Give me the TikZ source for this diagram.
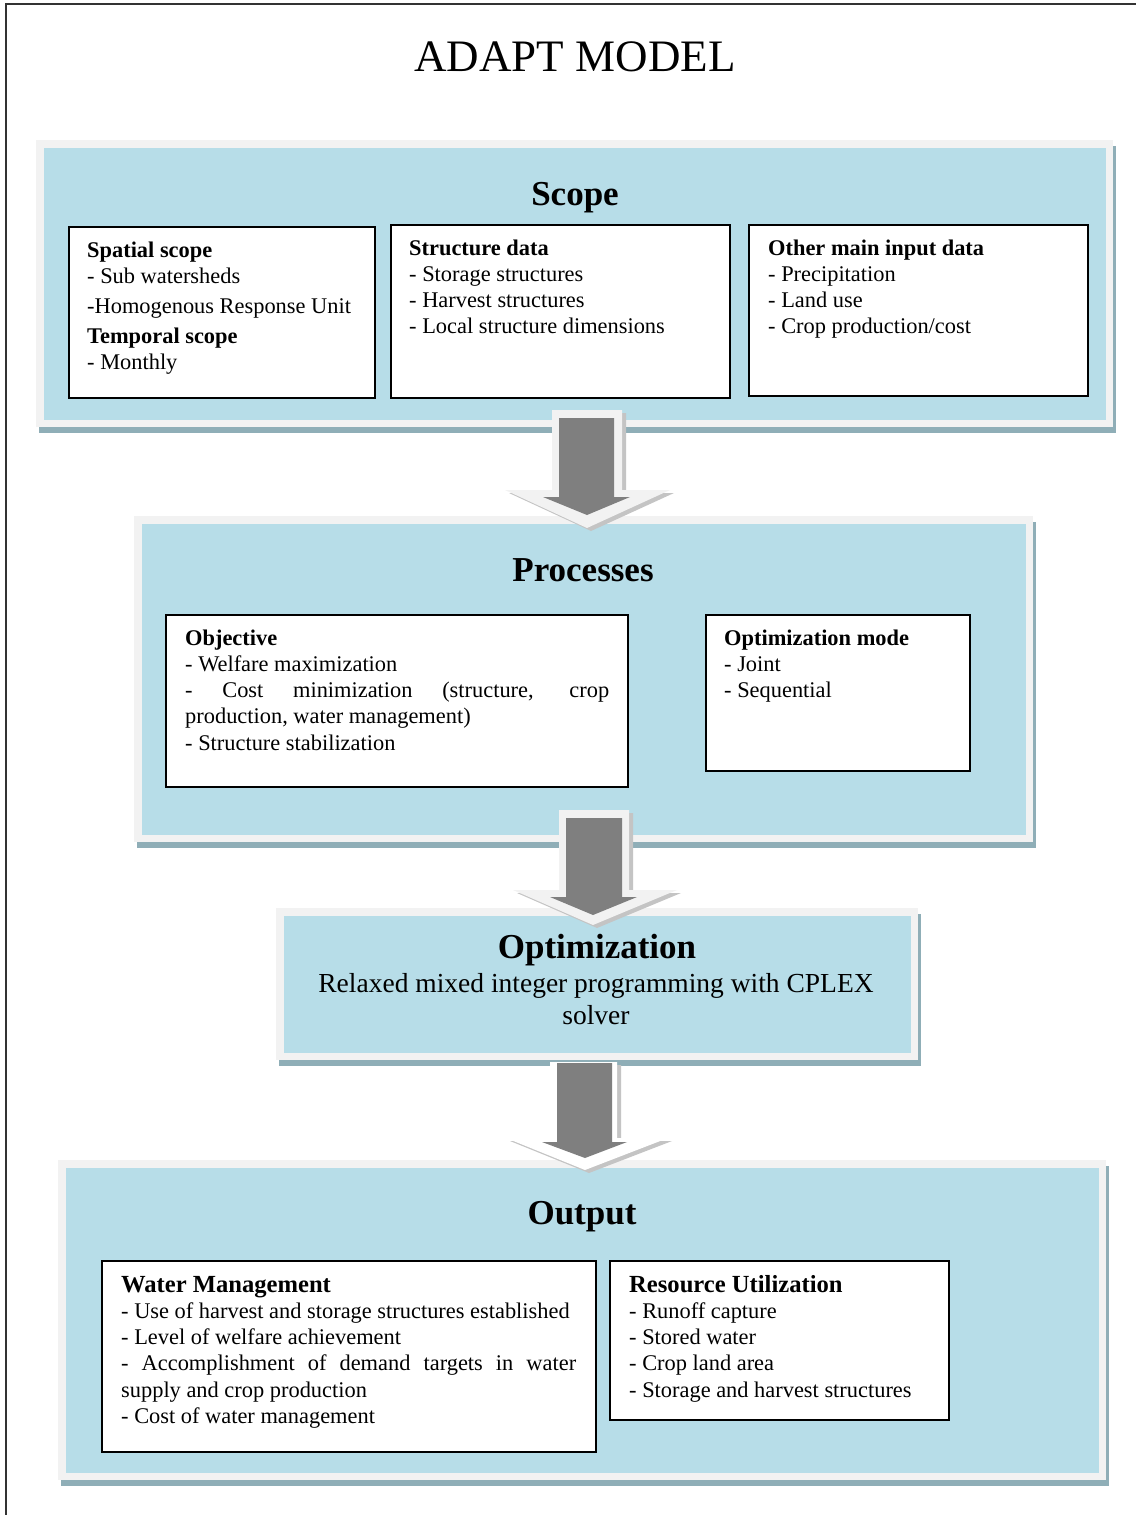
\documentclass[tikz,border=0pt]{standalone}
\usepackage{fontspec}
\setmainfont{Liberation Serif}
\usetikzlibrary{calc}

\definecolor{panelblue}{HTML}{B7DDE8}
\definecolor{panelrim}{HTML}{F2F2F2}
\definecolor{panelshade}{HTML}{8FAEB7}
\definecolor{arrowgray}{HTML}{7F7F7F}
\definecolor{arrowshade}{HTML}{C4C4C4}
\definecolor{framegray}{HTML}{333333}

\hyphenpenalty=10000
\exhyphenpenalty=10000

% heading font of the output boxes
\newcommand{\outhead}{\fontsize{24.6pt}{26.3pt}\selectfont\bfseries}

% panel: shadow, light rim, blue body; #1 name, (#2,#3)-(#4,#5) outer rim corners
\newcommand{\modelpanel}[5]{%
  \fill[panelshade, shift={(3,6)}] (#2,#3) rectangle (#4,#5);
  \fill[panelrim] (#2,#3) rectangle (#4,#5);
  \fill[panelblue] ($(#2,#3)+(7.5,7.5)$) coordinate (#1-nw)
    rectangle ($(#4,#5)+(-7.5,-7.5)$) coordinate (#1-se);
}

% block arrow: outer rim polygon and gray body polygon
\newcommand{\blockarrow}[3]{%
  \fill[arrowshade, shift={(4,3)}] #2;
  \fill[#1] #2;
  \fill[arrowgray] #3;
}

\begin{document}
\begin{tikzpicture}[x=1pt, y=-1pt,
  infobox/.style={draw=black, line width=1.5pt, fill=white, inner sep=0pt, anchor=north west},
  bodytext/.style={anchor=base west, inner sep=0pt, align=justify,
    font=\fontsize{22.4pt}{26.3pt}\selectfont},
  paneltitle/.style={inner sep=0pt, font=\fontsize{35pt}{40pt}\selectfont\bfseries}]

\useasboundingbox (0,0) rectangle (1136,1515);
\fill[white] (0,0) rectangle (1136,1515);
\draw[framegray, line width=2pt] (6,1515) -- (6,4) -- (1136,4);

\node[inner sep=0pt, font=\fontsize{45pt}{50pt}\selectfont] (title) at (575,57) {ADAPT MODEL};

% ---------------- Scope ----------------
\modelpanel{scope}{36}{140}{1113}{427}
\node[paneltitle] (scopetitle) at (575,198) {Scope};

\node[infobox, minimum width=306pt, minimum height=171pt] (spatialbox) at (68,226) {};
\node[infobox, minimum width=339pt, minimum height=173pt] (structbox) at (390,224) {};
\node[infobox, minimum width=339pt, minimum height=171pt] (inputbox) at (748,224) {};

\node[bodytext, text width=285pt] (spatialtext) at (87,257)
  {\textbf{Spatial scope}\\
   - Sub watersheds\\[3.7pt]
   -Homogenous Response Unit\\[3.7pt]
   \textbf{Temporal scope}\\
   - Monthly};
\node[bodytext, text width=315pt] (structtext) at (409,255)
  {\textbf{Structure data}\\
   - Storage structures\\
   - Harvest structures\\
   - Local structure dimensions};
\node[bodytext, text width=315pt] (inputtext) at (768,255)
  {\textbf{Other main input data}\\
   - Precipitation\\
   - Land use\\
   - Crop production/cost};

% ---------------- Processes ----------------
\modelpanel{proc}{134}{516}{1033}{842}
\node[paneltitle] (proctitle) at (583,570) {Processes};

\node[infobox, minimum width=462pt, minimum height=172pt] (objbox) at (165,614) {};
\node[infobox, minimum width=264pt, minimum height=156pt] (modebox) at (705,614) {};

\node[bodytext, text width=424pt] (objtext) at (185,645)
  {\textbf{Objective}\\
   - Welfare maximization\\
   - Cost minimization (structure, crop\linebreak
   production, water management)\\
   - Structure stabilization};
\node[bodytext, text width=240pt] (modetext) at (724,645)
  {\textbf{Optimization mode}\\
   - Joint\\
   - Sequential};

% ---------------- Optimization ----------------
\modelpanel{opt}{276}{908}{918}{1060}
\node[paneltitle] (opttitle) at (597,950) {Optimization};
\node[inner sep=0pt, align=center, font=\fontsize{27.5pt}{32pt}\selectfont] (opttext) at (596,999)
  {Relaxed mixed integer programming with CPLEX\\ solver};

% ---------------- Output ----------------
\modelpanel{out}{58}{1160}{1106}{1480}
\node[paneltitle] (outtitle) at (582,1217) {Output};

\node[infobox, minimum width=494pt, minimum height=191pt] (waterbox) at (101,1260) {};
\node[infobox, minimum width=339pt, minimum height=159pt] (resbox) at (609,1260) {};

\node[bodytext, text width=455pt] (watertext) at (121,1292)
  {{\outhead Water Management}\\
   - Use of harvest and storage structures established\\
   - Level of welfare achievement\\
   - Accomplishment of demand targets in water\linebreak
   supply and crop production\\
   - Cost of water management};
\node[bodytext, text width=315pt] (restext) at (629,1292)
  {{\outhead Resource Utilization}\\
   - Runoff capture\\
   - Stored water\\
   - Crop land area\\
   - Storage and harvest structures};

% ---------------- Flow arrows ----------------
\blockarrow{panelrim}
  {(552,410) -- (622,410) -- (622,490) -- (670,490) -- (587,528) -- (505,490) -- (552,490) -- cycle}
  {(559,418) -- (614,418) -- (614,497) -- (630,497) -- (587,515) -- (543,497) -- (559,497) -- cycle}
\blockarrow{panelrim}
  {(559,810) -- (629,810) -- (629,890) -- (677,890) -- (593,925) -- (513,890) -- (559,890) -- cycle}
  {(566,818) -- (622,818) -- (622,897) -- (637,897) -- (593,915) -- (550,897) -- (566,897) -- cycle}
\blockarrow{white}
  {(550,1062) -- (617,1062) -- (617,1138) -- (668,1138) -- (585,1170) -- (506,1138) -- (550,1138) -- cycle}
  {(557,1063) -- (612,1063) -- (612,1142) -- (627,1142) -- (585,1158) -- (542,1142) -- (557,1142) -- cycle}

\end{tikzpicture}
\end{document}
